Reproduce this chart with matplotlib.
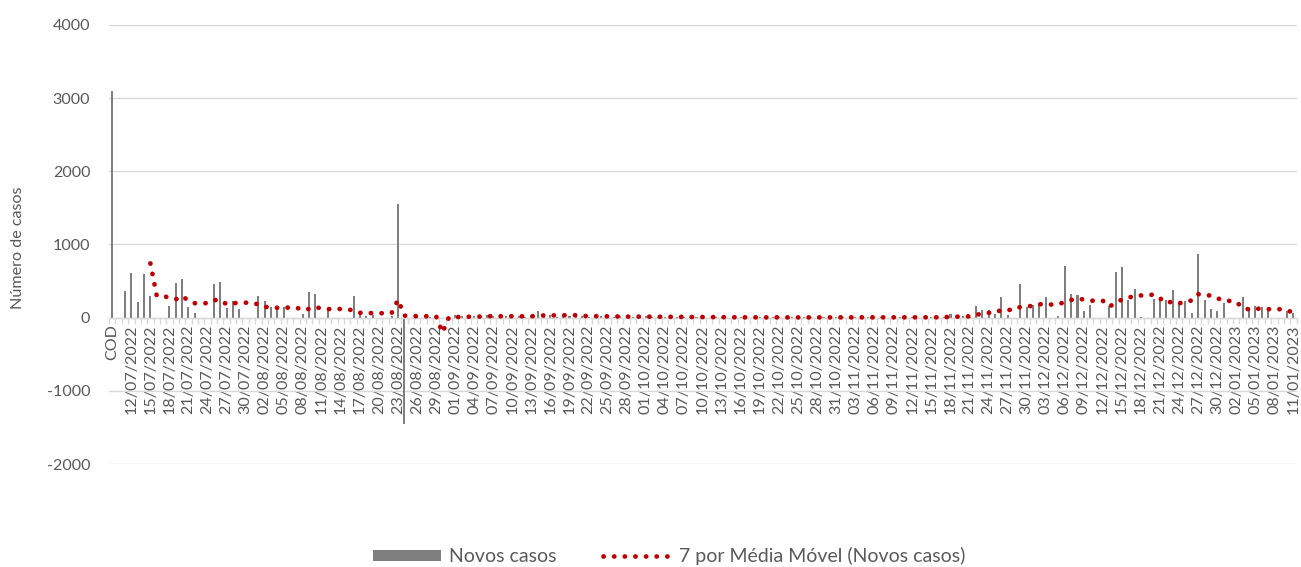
import matplotlib
matplotlib.use('Agg')
import matplotlib.pyplot as plt
import numpy as np
import pandas as pd
from datetime import date, timedelta
from matplotlib.lines import Line2D
from matplotlib.patches import Patch

# ---------------- data ----------------
start_date = date(2022, 7, 10)
n_days = 186
categories = ['COD'] + [(start_date + timedelta(days=d)).strftime('%d/%m/%Y') for d in range(n_days)]

novos_casos = [
    3100, 0, 364, 614, 218, 595, 300, 0, 0, 164,          # 0-9
    477, 532, 150, 59, 0, 0, 459, 486, 132, 232,          # 10-19
    123, 0, 0, 295, 232, 150, 145, 140, 0, 0,             # 20-29
    55, 348, 325, 0, 98, 0, 0, 0, 295, 70,                # 30-39
    20, 40, 0, 0, 27, 1555, -1450, 0, 5, 0,               # 40-49
    10, 8, 0, 0, 35, 20, 15, 25, 10, 30,                  # 50-59
    20, 15, 25, 10, 20, 15, 25, 95, 20, 30,               # 60-69
    15, 25, 20, 30, 25, 10, 15, 20, 10, 15,               # 70-79
    20, 10, 15, 10, 20, 10, 5, 15, 10, 5,                 # 80-89
    15, 5, 10, 5, 0, 10, 5, 0, 5, 10,                     # 90-99
    0, 5, 5, 0, 10, 5, 0, 5, 0, 5,                        # 100-109
    10, 0, 5, 0, 5, 5, 0, 10, 0, 5,                       # 110-119
    0, 5, 0, 10, 5, 0, 5, 0, 5, 10,                       # 120-129
    5, 10, 55, 10, 20, 15, 158, 107, 102, 50,             # 130-139
    285, 30, 0, 455, 145, 172, 198, 283, 0, 16,           # 140-149
    701, 326, 315, 89, 176, 0, 0, 162, 630, 692,          # 150-159
    235, 390, 14, 0, 260, 260, 244, 381, 200, 226,        # 160-169
    62, 868, 237, 118, 89, 207, 0, 0, 281, 98,            # 170-179
    153, 148, 130, 0, 0, 90, 60,                          # 180-186
]

y_ticks = [-2000, -1000, 0, 1000, 2000, 3000, 4000]
series_bar_label = 'Novos casos'
series_ma_label = '7 por Média Móvel (Novos casos)'
y_title = 'Número de casos'
ma_window = 7

# ---------------- figure ----------------
W, H = 1301, 567
fig = plt.figure(figsize=(W / 100, H / 100), dpi=100)
left_px, right_px, top_px, bottom_px = 109.1, 1296.6, 25, 464
ax = fig.add_axes([left_px / W, 1 - bottom_px / H, (right_px - left_px) / W, (bottom_px - top_px) / H])

txt_color = '#595959'
grid_color = '#d9d9d9'
bar_color = '#7f7f7f'
ma_color = '#c00000'
font = 'Lato'

x = np.arange(len(novos_casos))
ax.bar(x, novos_casos, width=0.32, color=bar_color, zorder=2)

ma = pd.Series(novos_casos, dtype=float).rolling(ma_window).mean()
ma_lw = 3.4
dot_style = (0, (0.05, 2.2))
ax.plot(x, ma, color=ma_color, lw=ma_lw, linestyle=dot_style, dash_capstyle='round', zorder=3)

ax.set_xlim(-0.5, len(novos_casos) - 0.5)
ax.set_ylim(-2000, 4000)

for s in ['left', 'right', 'top']:
    ax.spines[s].set_visible(False)
ax.spines['bottom'].set_position(('data', 0))
ax.spines['bottom'].set_color(grid_color)
ax.spines['bottom'].set_linewidth(1)

ax.set_yticks(y_ticks)
ax.set_yticklabels([str(v) for v in y_ticks], fontsize=11.6, color=txt_color, family=font)
ax.tick_params(axis='y', length=0, pad=13.5)
ax.yaxis.grid(True, color=grid_color, lw=1)
ax.set_axisbelow(True)

ax.set_xticks(x[::3])
ax.set_xticklabels(categories[::3], rotation=90, fontsize=11.6, color=txt_color, family=font, va='top')
ax.tick_params(axis='x', which='major', length=0, pad=5)
ax.set_xticks(np.arange(-0.5, len(novos_casos), 1), minor=True)
ax.tick_params(axis='x', which='minor', length=4, color=grid_color, width=1)

fig.text(18 / W, 1 - 248 / H, y_title, rotation=90, va='center', ha='center',
         fontsize=11.6, color=txt_color, family=font)

handles = [Patch(facecolor=bar_color, edgecolor='none'),
           Line2D([0], [0], color=ma_color, lw=ma_lw, linestyle=dot_style, dash_capstyle='round')]
fig.legend(handles, [series_bar_label, series_ma_label], loc='center', ncol=2,
           bbox_to_anchor=(669 / W, 1 - 556 / H), frameon=False,
           prop={'family': font, 'size': 14}, labelcolor=txt_color,
           handlelength=3.5, handleheight=0.5, columnspacing=2.4, handletextpad=0.4)

fig.savefig('out.png', dpi=100)
